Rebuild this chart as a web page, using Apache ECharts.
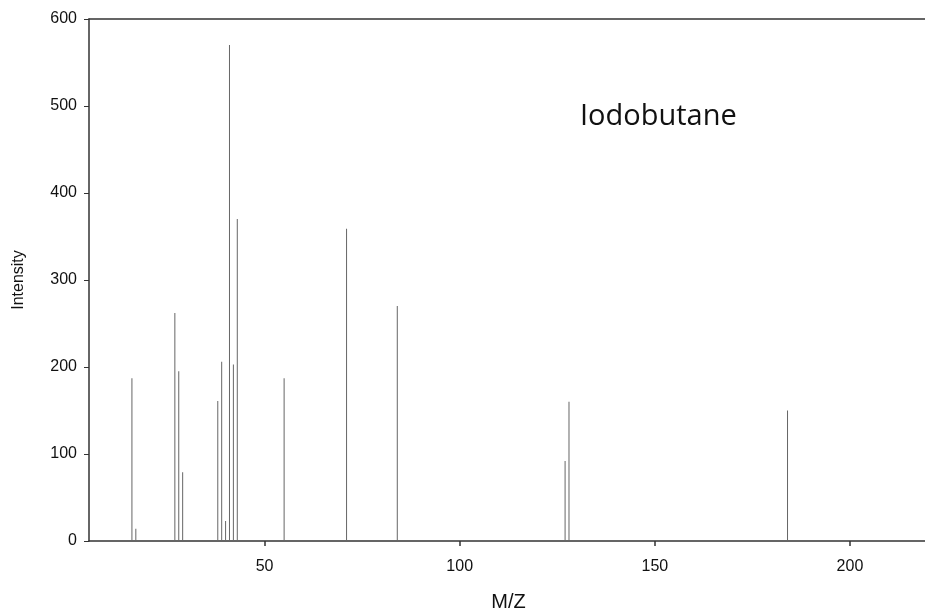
<!DOCTYPE html>
<html>
<head>
<meta charset="utf-8">
<script src="https://cdn.jsdelivr.net/npm/echarts@6/dist/echarts.min.js"></script>
<style>html,body{margin:0;padding:0;background:#fff;}#c{width:925px;height:612px;}</style>
</head>
<body>
<div id="c"></div>
<script>
const mz = [16, 17, 27, 28, 29, 38, 39, 40, 41, 42, 43, 55, 71, 84, 127, 128, 184];
const intensity = [187, 14, 262, 195, 79, 161, 206, 23, 570, 203, 370, 187, 359, 270, 92, 160, 150];
const xTicks = [50, 100, 150, 200];
const yTicks = [0, 100, 200, 300, 400, 500, 600];
const chartTitle = 'Iodobutane';
const xName = 'M/Z';
const yName = 'Intensity';

const chart = echarts.init(document.getElementById('c'), null, {renderer: 'canvas'});
const font = '"Liberation Sans", Arial, sans-serif';
chart.setOption({
  animation: false,
  backgroundColor: '#fff',
  grid: {left: 89, top: 19, width: 839, height: 522, outerBoundsMode: 'none', containLabel: false},
  graphic: [{
    type: 'text', left: 580, top: 102,
    style: {text: chartTitle, font: '29px "Open Sans", sans-serif', fill: '#111'}
  }],
  xAxis: [{
    type: 'value', min: 5, max: 220,
    name: xName, nameLocation: 'middle', nameGap: 51,
    nameTextStyle: {fontFamily: font, fontSize: 20, color: '#111'},
    axisLine: {show: true, lineStyle: {color: '#333', width: 1.5}},
    axisTick: {show: true, length: 5, customValues: xTicks, lineStyle: {color: '#333', width: 1.5}},
    axisLabel: {customValues: xTicks, fontFamily: font, fontSize: 16, color: '#111', margin: 18},
    splitLine: {show: false}
  }, {
    type: 'value', min: 5, max: 220, position: 'top',
    axisLine: {show: true, lineStyle: {color: '#333', width: 1.5}},
    axisTick: {show: false}, axisLabel: {show: false}, splitLine: {show: false}
  }],
  yAxis: {
    type: 'value', min: 0, max: 600, interval: 100,
    name: yName, nameLocation: 'middle', nameGap: 62,
    nameTextStyle: {fontFamily: font, fontSize: 16, color: '#111'},
    axisLine: {show: true, lineStyle: {color: '#333', width: 1.5}},
    axisTick: {show: true, length: 5, lineStyle: {color: '#333', width: 1}},
    axisLabel: {fontFamily: font, fontSize: 16, color: '#111', margin: 12},
    splitLine: {show: false}
  },
  series: [{
    type: 'bar',
    xAxisIndex: 0,
    barWidth: 1,
    itemStyle: {color: '#666'},
    data: mz.map((m, i) => [m, intensity[i]])
  }]
});
</script>
</body>
</html>
